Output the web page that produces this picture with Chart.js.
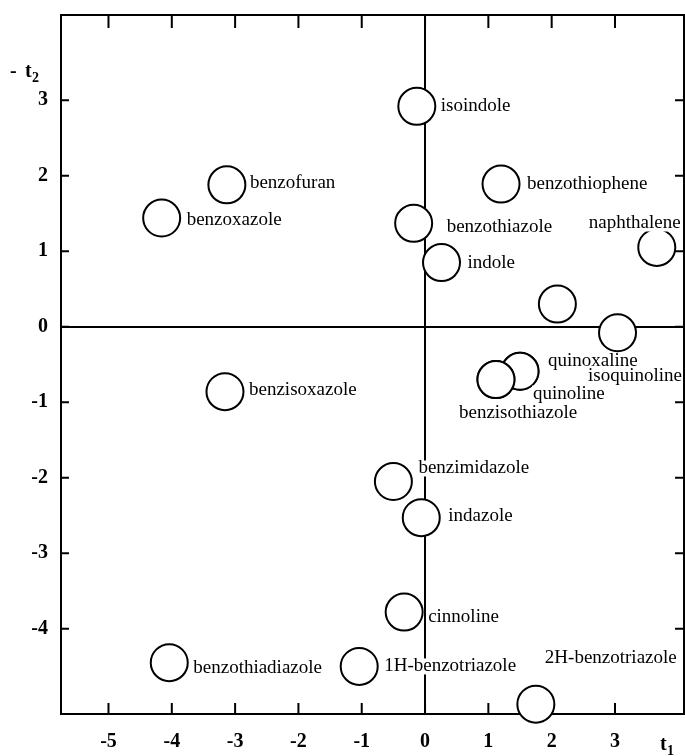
<!DOCTYPE html>
<html>
<head>
<meta charset="utf-8">
<script src="https://cdn.jsdelivr.net/npm/chart.js@4.4.1/dist/chart.umd.min.js"></script>
<style>
  html, body { margin: 0; padding: 0; background: #fff; }
  #wrap { width: 685px; height: 756px; }
</style>
</head>
<body>
<div id="wrap"><canvas id="plot" width="685" height="756"></canvas></div>
<script>
// Score plot of bicyclic aromatic compounds: first (t1) vs second (t2) component.
const compounds = [
  'isoindole', 'benzofuran', 'benzoxazole', 'benzothiophene', 'benzothiazole',
  'naphthalene', 'indole', '', '', 'quinoxaline', 'isoquinoline', 'quinoline',
  'benzisothiazole', 'benzisoxazole', 'benzimidazole', 'indazole', 'cinnoline',
  '1H-benzotriazole', 'benzothiadiazole', '2H-benzotriazole'
];
const t1Scores = [
  -0.13, -3.13, -4.16, 1.20, -0.18,
  3.66, 0.26, 2.09, 3.04, 1.50, 1.50, 1.12,
  1.12, -3.16, -0.50, -0.06, -0.33,
  -1.04, -4.04, 1.75
];
const t2Scores = [
  2.92, 1.88, 1.44, 1.89, 1.37,
  1.05, 0.85, 0.30, -0.08, -0.59, -0.59, -0.70,
  -0.70, -0.86, -2.05, -2.53, -3.78,
  -4.50, -4.45, -5.00
];
const xTickValues = [-5, -4, -3, -2, -1, 0, 1, 2, 3];
const yTickValues = [-4, -3, -2, -1, 0, 1, 2, 3];

// Where each name sits relative to its circle (pixels).
const labelOffsets = [
  [24, 0], [23, -2], [25, 2], [26, 0], [33, 4],
  [-68, -24], [26, 0], [0, 0], [0, 0], [28, -10], [68, 5], [37, 14],
  [-37, 33], [24, -2], [25, -13], [27, -2], [24, 5],
  [25, 0], [24, 5], [9, -46]
];

const SERIF = '"Liberation Serif", "DejaVu Serif", serif';
const tickFont = { family: SERIF, size: 20, weight: 'bold' };

const points = compounds.map((name, i) => ({ x: t1Scores[i], y: t2Scores[i] }));

function zeroLineColor(ctx) {
  return ctx.tick && ctx.tick.value === 0 ? '#000' : 'rgba(0,0,0,0)';
}

// Box outline with short inward tick marks on all four sides.
const framePlugin = {
  id: 'frame',
  beforeDatasetsDraw(chart) {
    const { ctx, chartArea: a, scales } = chart;
    ctx.save();
    ctx.strokeStyle = '#000';
    ctx.lineWidth = 2;
    ctx.strokeRect(a.left, a.top, a.right - a.left, a.bottom - a.top);
    ctx.beginPath();
    xTickValues.forEach(v => {
      const px = scales.x.getPixelForValue(v);
      ctx.moveTo(px, a.bottom); ctx.lineTo(px, a.bottom - 11);
      ctx.moveTo(px, a.top); ctx.lineTo(px, a.top + 13);
    });
    yTickValues.forEach(v => {
      const py = scales.y.getPixelForValue(v);
      ctx.moveTo(a.left, py); ctx.lineTo(a.left + 8, py);
      ctx.moveTo(a.right, py); ctx.lineTo(a.right - 9, py);
    });
    ctx.stroke();
    ctx.restore();
  }
};

// Compound names beside their circles, on a white patch over the axis lines.
const namePlugin = {
  id: 'names',
  afterDatasetsDraw(chart) {
    const { ctx } = chart;
    const meta = chart.getDatasetMeta(0);
    ctx.save();
    ctx.font = '19px ' + SERIF;
    ctx.textAlign = 'left';
    ctx.textBaseline = 'middle';
    compounds.forEach((name, i) => {
      if (!name) return;
      const el = meta.data[i];
      const x = el.x + labelOffsets[i][0];
      const y = el.y + labelOffsets[i][1];
      const w = ctx.measureText(name).width;
      ctx.fillStyle = '#fff';
      ctx.fillRect(x - 1, y - 8, w + 2, 16);
      ctx.fillStyle = '#000';
      ctx.fillText(name, x, y);
    });
    ctx.restore();
  }
};

// Axis titles with subscripts.
const titlePlugin = {
  id: 'titles',
  afterDraw(chart) {
    const { ctx } = chart;
    ctx.save();
    ctx.fillStyle = '#000';
    ctx.textBaseline = 'alphabetic';
    ctx.textAlign = 'left';
    ctx.font = 'bold 20px ' + SERIF;
    ctx.fillText('-', 10, 77);
    ctx.fillText('t', 25, 77);
    ctx.font = 'bold 14px ' + SERIF;
    ctx.fillText('2', 32, 82);
    ctx.font = 'bold 20px ' + SERIF;
    ctx.fillText('t', 660, 750);
    ctx.font = 'bold 14px ' + SERIF;
    ctx.fillText('1', 667, 755);
    ctx.restore();
  }
};

new Chart(document.getElementById('plot'), {
  type: 'scatter',
  data: {
    datasets: [{
      data: points,
      pointRadius: 18.5,
      pointHoverRadius: 18.5,
      pointBorderWidth: 2,
      pointBackgroundColor: '#fff',
      pointBorderColor: '#000',
      clip: false
    }]
  },
  options: {
    responsive: false,
    animation: false,
    events: [],
    layout: { autoPadding: false, padding: { top: 15, right: 1, left: 0, bottom: 0 } },
    plugins: { legend: { display: false }, tooltip: { enabled: false } },
    scales: {
      x: {
        type: 'linear',
        min: -5.75,
        max: 4.09,
        afterBuildTicks: s => { s.ticks = xTickValues.map(v => ({ value: v })); },
        afterFit: s => { s.height = 42; s.paddingLeft = 0; s.paddingRight = 0; },
        border: { display: false },
        grid: { drawTicks: false, color: zeroLineColor, lineWidth: 2 },
        ticks: { color: '#000', font: tickFont, padding: 16, maxRotation: 0 }
      },
      y: {
        type: 'linear',
        min: -5.13,
        max: 4.13,
        afterBuildTicks: s => { s.ticks = yTickValues.map(v => ({ value: v })); },
        afterFit: s => { s.width = 61; s.paddingTop = 0; s.paddingBottom = 0; },
        border: { display: false },
        grid: { drawTicks: false, color: zeroLineColor, lineWidth: 2 },
        ticks: { color: '#000', font: tickFont, padding: 13 }
      }
    }
  },
  plugins: [framePlugin, namePlugin, titlePlugin]
});
</script>
</body>
</html>
